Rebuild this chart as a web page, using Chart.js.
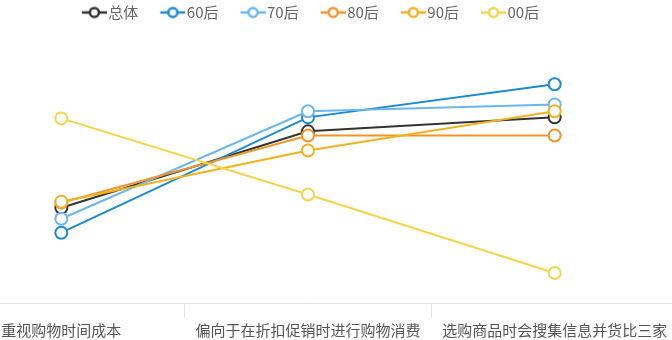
<!DOCTYPE html>
<html>
<head>
<meta charset="utf-8">
<script src="https://cdn.jsdelivr.net/npm/chart.js@4.4.0/dist/chart.umd.min.js"></script>
<style>
  html, body { margin: 0; padding: 0; background: #fff; overflow: hidden; }
  #wrap { position: relative; width: 672px; height: 340px; overflow: hidden; }
  #chart { position: absolute; left: -62px; top: -12px; }
</style>
</head>
<body>
<div id="wrap"><canvas id="chart" width="740" height="354"></canvas></div>
<script>
const categories = ["重视购物时间成本", "偏向于在折扣促销时进行购物消费", "选购商品时会搜集信息并货比三家"];
const seriesNames = ["总体", "60后", "70后", "80后", "90后", "00后"];
const seriesColors = ["#333333", "#1a8bd0", "#6cb6ee", "#f0952a", "#f2b21e", "#f6d44a"];

// share (%) per generation
const overall = [27.9, 50.3, 54.4];
const gen60 = [20.6, 54.4, 64.1];
const gen70 = [24.7, 56.2, 58.2];
const gen80 = [29.4, 49.1, 49.1];
const gen90 = [29.7, 44.7, 56.2];
const gen00 = [54.1, 31.8, 8.8];
const seriesValues = [overall, gen60, gen70, gen80, gen90, gen00];

const FONT = "'Noto Sans CJK SC', 'Noto Sans', sans-serif";

// legend icon: short line with a hollow circle, drawn in the right part of the image
function legendMarker(color) {
  const c = document.createElement("canvas");
  c.width = 36;
  c.height = 14;
  const ctx = c.getContext("2d");
  const x0 = 11;
  ctx.strokeStyle = color;
  ctx.lineWidth = 2.5;
  ctx.beginPath();
  ctx.moveTo(x0, 7);
  ctx.lineTo(x0 + 25, 7);
  ctx.stroke();
  ctx.beginPath();
  ctx.arc(x0 + 12.5, 7, 4.5, 0, Math.PI * 2);
  ctx.fillStyle = "#fff";
  ctx.fill();
  ctx.stroke();
  return c;
}

const datasets = seriesNames.map((name, i) => ({
  label: name,
  data: seriesValues[i],
  borderColor: seriesColors[i],
  backgroundColor: seriesColors[i],
  borderWidth: 2,
  tension: 0,
  pointRadius: 6,
  pointBorderWidth: 2,
  pointBackgroundColor: "#fff",
  pointBorderColor: seriesColors[i],
  order: seriesNames.length - i // later series on top
}));

new Chart(document.getElementById("chart"), {
  type: "line",
  data: { labels: categories, datasets: datasets },
  options: {
    responsive: false,
    animation: false,
    layout: { padding: 0, autoPadding: false },
    plugins: {
      tooltip: { enabled: false },
      legend: {
        position: "top",
        maxHeight: 43,
        labels: {
          usePointStyle: true,
          pointStyleWidth: 24,
          padding: 17,
          color: "#666",
          font: { family: FONT, size: 15 },
          sort: (a, b) => a.datasetIndex - b.datasetIndex,
          generateLabels: (chart) => {
            const items = Chart.defaults.plugins.legend.labels.generateLabels(chart);
            items.forEach(it => { it.pointStyle = legendMarker(seriesColors[it.datasetIndex]); });
            return items;
          }
        }
      }
    },
    scales: {
      x: {
        offset: true,
        grid: {
          offset: true,
          drawOnChartArea: false,
          tickLength: 15,
          color: "#e6e6e6"
        },
        border: { color: "#e6e6e6" },
        ticks: {
          padding: 3,
          color: "#555",
          font: { family: FONT, size: 15 }
        }
      },
      y: {
        display: false,
        min: 0,
        max: 80
      }
    }
  }
});
</script>
</body>
</html>
